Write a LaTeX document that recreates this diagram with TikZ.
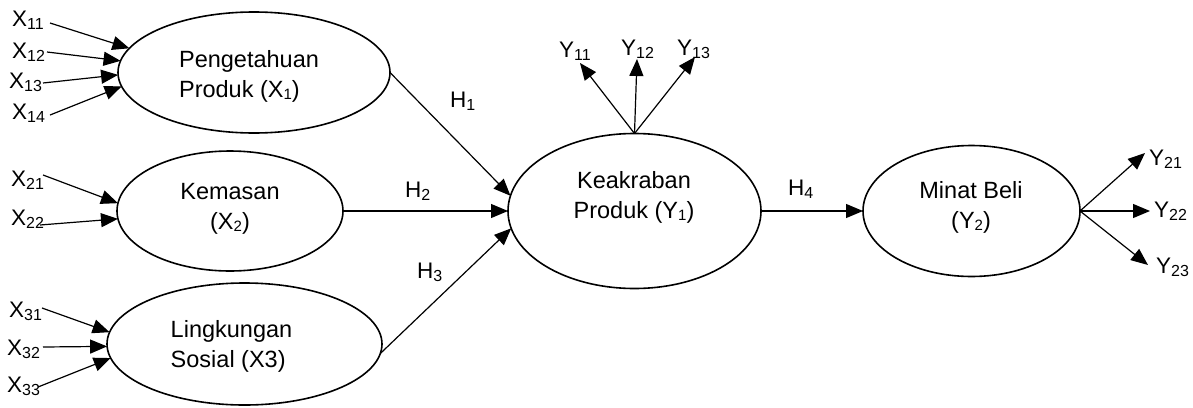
\documentclass[tikz,border=0pt]{standalone}
\usepackage{fontspec}
\setmainfont{Liberation Sans}
\usetikzlibrary{arrows.meta,shapes.geometric}
\newcommand{\sbs}[1]{\raisebox{-3pt}{\fontsize{16}{16}\selectfont #1}}
\newcommand{\sbin}[1]{\raisebox{-2pt}{\fontsize{15}{15}\selectfont #1}}
\tikzset{
  ell/.style={draw, ellipse, line width=1.6pt, inner sep=0pt, outer sep=0pt},
  etext/.style={font=\fontsize{23.5}{30}\selectfont, inner sep=0pt},
  lbl/.style={font=\fontsize{22.5}{24}\selectfont, inner sep=0pt, anchor=base west},
  conn/.style={line width=1.2pt, -{Triangle[length=17pt,width=14pt]}}
}
\begin{document}
\begin{tikzpicture}[x=1pt,y=-1pt]
\useasboundingbox (0,0) rectangle (1193,407);
% ellipses
\node[ell, minimum width=272pt, minimum height=121pt] (P) at (254,72.5) {};
\node[ell, minimum width=226pt, minimum height=120pt] (K) at (230,211) {};
\node[ell, minimum width=275pt, minimum height=122pt] (L) at (244.5,344) {};
\node[ell, minimum width=253pt, minimum height=155pt] (KP) at (634.5,211) {};
\node[ell, minimum width=217pt, minimum height=131pt] (MB) at (971.5,211) {};
% texts
\node[etext, align=left] (Pt) at (249,76) {Pengetahuan\\Produk (X\sbin{1})};
\node[etext, align=center] (Kt) at (230,209) {Kemasan\\(X\sbin{2})};
\node[etext, align=left] (Lt) at (231.5,346) {Lingkungan\\Sosial (X3)};
\node[etext, align=center] (KPt) at (634,197) {Keakraban\\Produk (Y\sbin{1})};
\node[etext, align=center] (MBt) at (971,207) {Minat Beli\\(Y\sbin{2})};
% X labels
\node[lbl] (x11) at (12,26) {X\sbs{11}};
\node[lbl] (x12) at (12,58) {X\sbs{12}};
\node[lbl] (x13) at (9,88) {X\sbs{13}};
\node[lbl] (x14) at (12,119) {X\sbs{14}};
\node[lbl] (x21) at (11,186) {X\sbs{21}};
\node[lbl] (x22) at (11,225) {X\sbs{22}};
\node[lbl] (x31) at (9,317) {X\sbs{31}};
\node[lbl] (x32) at (7,355) {X\sbs{32}};
\node[lbl] (x33) at (7,392) {X\sbs{33}};
% Y labels
\node[lbl] (y11) at (559,57) {Y\sbs{11}};
\node[lbl] (y12) at (621,55) {Y\sbs{12}};
\node[lbl] (y13) at (677,55) {Y\sbs{13}};
\node[lbl] (y21) at (1149,165) {Y\sbs{21}};
\node[lbl] (y22) at (1154,217) {Y\sbs{22}};
\node[lbl] (y23) at (1156,273) {Y\sbs{23}};
% H labels
\node[lbl] (h1) at (450,107) {H\sbs{1}};
\node[lbl] (h2) at (405,197) {H\sbs{2}};
\node[lbl] (h3) at (417,278) {H\sbs{3}};
\node[lbl] (h4) at (788,195) {H\sbs{4}};
% free ends
\coordinate (sx11) at (50,23);
\coordinate (sx12) at (47,52);
\coordinate (sx13) at (43,83);
\coordinate (sx14) at (50,115);
\coordinate (sx21) at (43,175);
\coordinate (sx22) at (40,225);
\coordinate (sx31) at (42,308);
\coordinate (sx32) at (43,347);
\coordinate (sx33) at (38,387);
\coordinate (ty11) at (580,63);
\coordinate (ty12) at (637,59);
\coordinate (ty13) at (695,57);
\coordinate (ty21) at (1145,153);
\coordinate (ty22) at (1150,211);
\coordinate (ty23) at (1148,265);
% X connectors
\draw[conn] (sx11) -- (P.169.2);
\draw[conn] (sx12) -- (P.175.6);
\draw[conn] (sx13) -- (P.181);
\draw[conn] (sx14) -- (P.186.6);
\draw[conn] (sx21) -- (K.176);
\draw[conn] (sx22) -- (K.184.6);
\draw[conn] (sx31) -- (L.175.2);
\draw[conn] (sx32) -- (L.181.3);
\draw[conn] (sx33) -- (L.186.9);
% H connectors
\draw[conn] (P.east) -- (KP.173);
\draw[conn] (K.east) -- (KP.west);
\draw[conn] (L.-4) -- (KP.188);
\draw[conn] (KP.east) -- (MB.west);
% Y connectors
\draw[conn] (KP.north) -- (ty11);
\draw[conn] (KP.north) -- (ty12);
\draw[conn] (KP.north) -- (ty13);
\draw[conn] (MB.east) -- (ty21);
\draw[conn] (MB.east) -- (ty22);
\draw[conn] (MB.east) -- (ty23);
\end{tikzpicture}
\end{document}
